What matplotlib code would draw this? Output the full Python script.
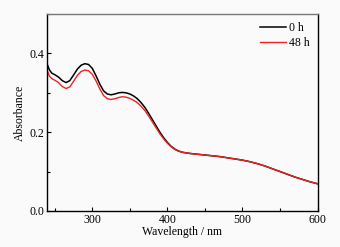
import numpy as np
import matplotlib
matplotlib.use('Agg')
import matplotlib.pyplot as plt
from matplotlib.ticker import MultipleLocator

plt.rcParams['font.family'] = ['Liberation Serif', 'DejaVu Serif']
plt.rcParams['font.size'] = 8.5

# wavelength grid (nm)
wl = [240, 243, 246, 250, 255, 260, 265, 270, 275, 280, 285, 290, 295, 300,
      305, 310, 315, 320, 325, 330, 335, 340, 345, 350, 355, 360, 365, 370,
      375, 380, 385, 390, 395, 400, 405, 410, 415, 420, 430, 440, 450, 460,
      470, 480, 490, 500, 510, 520, 530, 540, 550, 560, 570, 580, 590, 600]

# absorbance at 0 h
abs_0h = [0.372, 0.358, 0.350, 0.346, 0.340, 0.331, 0.326, 0.331, 0.345, 0.360,
          0.370, 0.374, 0.372, 0.362, 0.343, 0.322, 0.305, 0.297, 0.295, 0.297,
          0.300, 0.301, 0.300, 0.297, 0.292, 0.285, 0.275, 0.263, 0.248, 0.232,
          0.216, 0.200, 0.186, 0.174, 0.164, 0.157, 0.152, 0.149, 0.146, 0.144,
          0.142, 0.140, 0.138, 0.135, 0.132, 0.129, 0.125, 0.120, 0.114, 0.107,
          0.100, 0.093, 0.086, 0.080, 0.074, 0.069]

# absorbance at 48 h
abs_48h = [0.356, 0.342, 0.336, 0.332, 0.326, 0.316, 0.311, 0.315, 0.329, 0.344,
           0.354, 0.358, 0.356, 0.347, 0.330, 0.310, 0.293, 0.285, 0.283, 0.285,
           0.288, 0.290, 0.289, 0.286, 0.281, 0.275, 0.266, 0.255, 0.241, 0.226,
           0.211, 0.196, 0.183, 0.172, 0.163, 0.156, 0.152, 0.149, 0.146, 0.144,
           0.142, 0.140, 0.138, 0.135, 0.132, 0.129, 0.125, 0.120, 0.114, 0.107,
           0.100, 0.093, 0.086, 0.080, 0.074, 0.069]

bg = '#fafafa'
fig = plt.figure(figsize=(3.4, 2.47), dpi=100, facecolor=bg)
ax = fig.add_axes([0.139, 0.146, 0.795, 0.797], facecolor=bg)

ax.plot(wl, abs_0h, color='black', lw=1.1, label='0 h')
ax.plot(wl, abs_48h, color='#ee2222', lw=1.0, label='48 h')

ax.set_xlim(240, 600)
ax.set_ylim(0, 0.5)
ax.xaxis.set_major_locator(MultipleLocator(100))
ax.xaxis.set_minor_locator(MultipleLocator(50))
ax.yaxis.set_major_locator(MultipleLocator(0.2))
ax.yaxis.set_minor_locator(MultipleLocator(0.1))
ax.yaxis.set_major_formatter(plt.FuncFormatter(lambda v, p: '%.1f' % v))
ax.tick_params(which='both', direction='in', top=False, right=False, pad=2)
ax.tick_params(which='major', length=3, width=0.8)
ax.tick_params(which='minor', length=2, width=0.8)

for s in ['left', 'bottom', 'right']:
  ax.spines[s].set_linewidth(1.0)
ax.spines['top'].set_color('#777777')
ax.spines['top'].set_linewidth(1.0)

ax.set_xlabel('Wavelength / nm', labelpad=0)
ax.set_ylabel('Absorbance', labelpad=3)

ax.legend(loc='upper right', frameon=False, handlelength=2.2, handletextpad=0.2,
          labelspacing=0.25, borderaxespad=0.3, fontsize=8.5)

fig.savefig('out.png', dpi=100, facecolor=bg)
